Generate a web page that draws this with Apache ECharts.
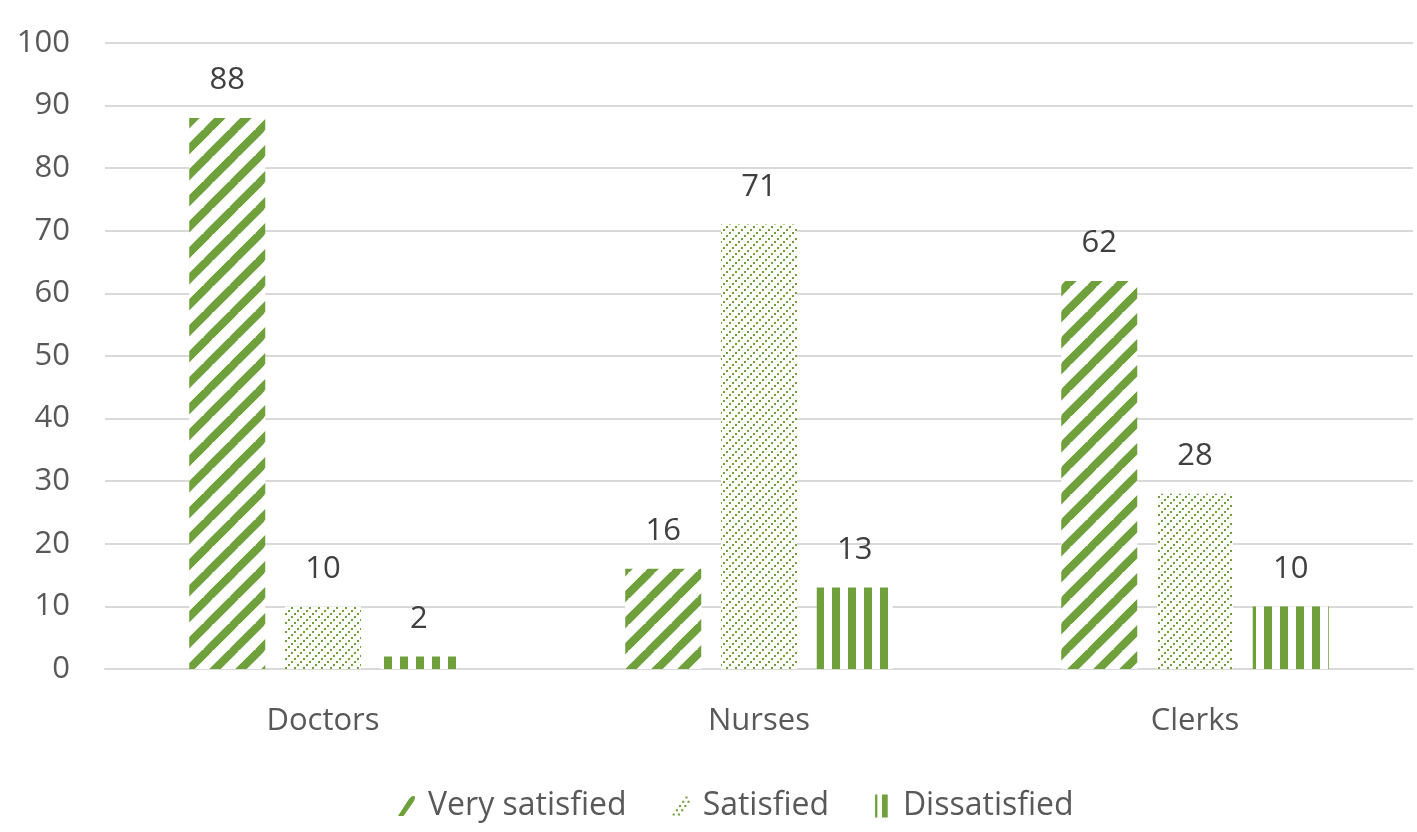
<!DOCTYPE html>
<html><head><meta charset="utf-8">
<script src="https://cdn.jsdelivr.net/npm/echarts@6/dist/echarts.min.js"></script>
<style>html,body{margin:0;padding:0;background:#fff}#c{width:1417px;height:832px}</style>
</head><body><div id="c"></div>
<script>
const categories = ['Doctors', 'Nurses', 'Clerks'];
const seriesNames = ['Very satisfied', 'Satisfied', 'Dissatisfied'];
const verySatisfied = [88, 16, 62];
const satisfied = [10, 71, 28];
const dissatisfied = [2, 13, 10];

const GREEN = '#6fa03c';
function stripes() {
  const P = 26, c = document.createElement('canvas');
  c.width = P; c.height = P;
  const g = c.getContext('2d');
  g.fillStyle = '#fff'; g.fillRect(0, 0, P, P);
  g.strokeStyle = GREEN; g.lineWidth = 8;
  for (let k = -1; k <= 1; k++) {
    g.beginPath(); g.moveTo(k * P - 2, P + 2); g.lineTo(k * P + P + 2, -2); g.stroke();
  }
  return c;
}
function dots() {
  const P = 9, c = document.createElement('canvas');
  c.width = P; c.height = P;
  const g = c.getContext('2d');
  g.fillStyle = '#fff'; g.fillRect(0, 0, P, P);
  g.fillStyle = GREEN;
  for (let i = 0; i < 3; i++) {
    g.fillRect(i * 3, P - 2 - i * 3, 2, 2);
  }
  return c;
}
function vbars() {
  const c = document.createElement('canvas');
  c.width = 16; c.height = 16;
  const g = c.getContext('2d');
  g.fillStyle = '#fff'; g.fillRect(0, 0, 16, 16);
  g.fillStyle = GREEN; g.fillRect(0, 0, 8, 16);
  return c;
}
const patterns = [stripes(), dots(), vbars()];
const icons = [
  'path://M0,20 L9,6 Q12,1 15,2 Q16,4 14,7 L5,20 Z',
  'path://M0,18h2v2h-2Z M3,14h2v2h-2Z M6,10h2v2h-2Z M9,6h2v2h-2Z M12,2h2v2h-2Z M5,18h2v2h-2Z M8,14h2v2h-2Z M11,10h2v2h-2Z M14,6h2v2h-2Z',
  'path://M0,0h2v20h-2Z M6,0h5v20h-5Z'
];
const dataSets = [verySatisfied, satisfied, dissatisfied];

const chart = echarts.init(document.getElementById('c'));
const font = '"Open Sans", "DejaVu Sans", sans-serif';
chart.setOption({
  animation: false,
  textStyle: { fontFamily: font },
  grid: { left: 105, right: 4, top: 43, bottom: 163 },
  legend: {
    bottom: 5,
    left: 393,
    itemGap: 46,
    itemWidth: 17,
    itemHeight: 23,
    textStyle: { fontSize: 32, color: '#595959', fontFamily: font, padding: [0, 0, 0, 8] },
    data: seriesNames.map((n, i) => ({ name: n, icon: icons[i], itemStyle: { color: GREEN } }))
  },
  xAxis: {
    type: 'category',
    data: categories,
    axisLine: { lineStyle: { color: '#d9d9d9', width: 2 } },
    axisTick: { show: false },
    axisLabel: { fontSize: 31, color: '#595959', margin: 37, fontFamily: font }
  },
  yAxis: {
    type: 'value',
    min: 0, max: 100, interval: 10,
    axisLine: { show: false },
    axisTick: { show: false },
    splitLine: { lineStyle: { color: '#d9d9d9', width: 2 } },
    axisLabel: { fontSize: 31, color: '#595959', margin: 35, fontFamily: font }
  },
  series: seriesNames.map((n, i) => ({
    name: n,
    type: 'bar',
    data: dataSets[i],
    barWidth: 76,
    barGap: '26%',
    itemStyle: { color: { image: patterns[i], repeat: 'repeat' } },
    label: { show: true, position: 'top', distance: 22, fontSize: 31, color: '#404040', fontFamily: font }
  }))
});
</script></body></html>
